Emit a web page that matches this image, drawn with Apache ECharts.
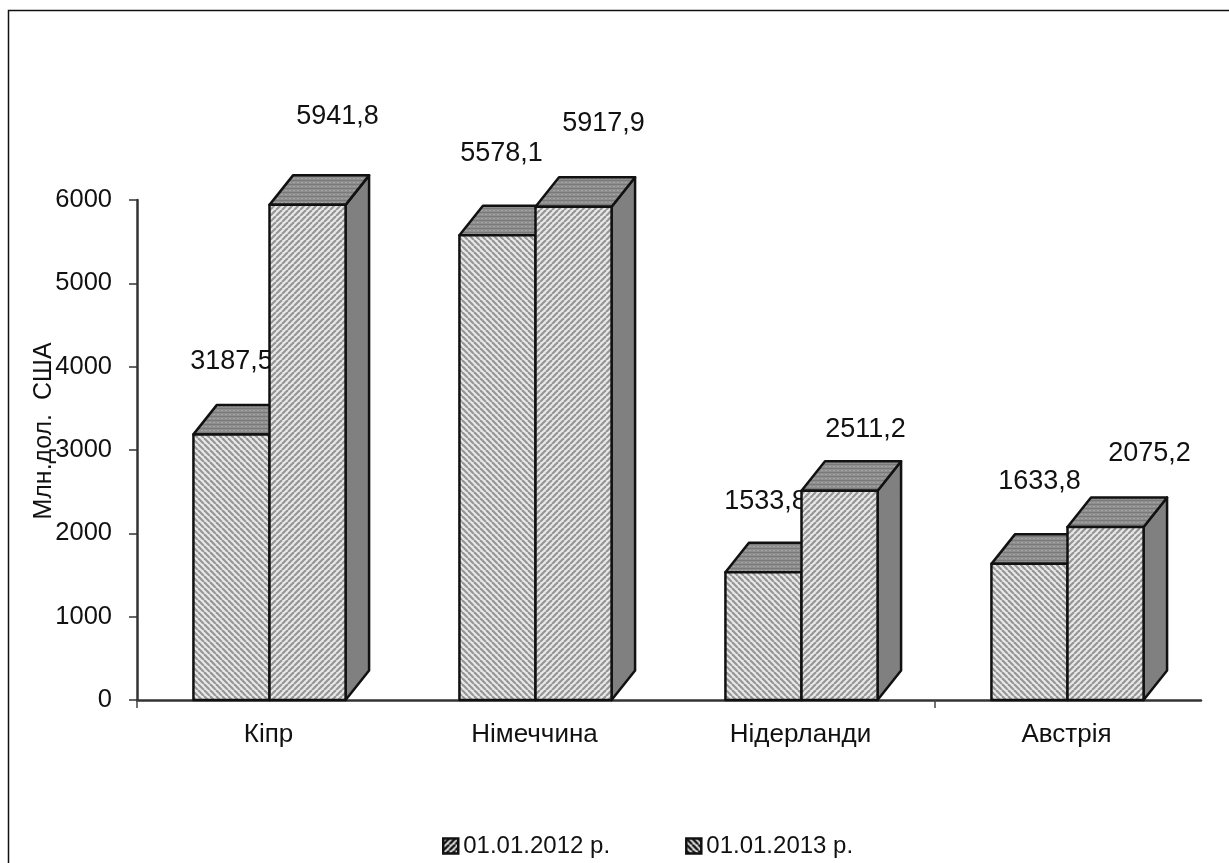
<!DOCTYPE html>
<html><head><meta charset="utf-8">
<style>html,body{margin:0;padding:0;background:#fff}#c{width:1229px;height:863px}</style>
<script src="https://cdn.jsdelivr.net/npm/echarts@6/dist/echarts.min.js"></script>
</head><body><div id="c"></div>
<script>
const categories = ['Кіпр','Німеччина','Нідерланди','Австрія'];
const seriesNames = ['01.01.2012 р.','01.01.2013 р.'];
const values2012 = [3187.5,5578.1,1533.8,1633.8];
const values2013 = [5941.8,5917.9,2511.2,2075.2];
const labels2012 = ['3187,5','5578,1','1533,8','1633,8'];
const labels2013 = ['5941,8','5917,9','2511,2','2075,2'];
const tickedCategories = [0,3];
// label shift from bar centre, and lift above its bar top
const labelLift2012 = [[0,73],[4,82],[2,71],[10,82]];
const labelLift2013 = [[30,88],[30,83],[26,61],[44,74]];
const FONT = '"Liberation Sans", Arial, sans-serif';

function hatch(dir, dark, light, p, lw){
  const c=document.createElement('canvas'); c.width=p; c.height=p;
  const g=c.getContext('2d'); g.fillStyle=light; g.fillRect(0,0,p,p);
  g.strokeStyle=dark; g.lineWidth=lw;
  for(let k=-p;k<=2*p;k+=p){
    g.beginPath();
    if(dir>0){g.moveTo(k,p);g.lineTo(k+p,0);} else {g.moveTo(k,0);g.lineTo(k+p,p);}
    g.stroke();
  }
  return {image:c,repeat:'repeat'};
}
const fillA = hatch(-1,'#969696','#e8e8e8',6,2.2);
const fillB = hatch(1,'#969696','#e8e8e8',6,2.2);
const legendA = hatch(1,'#111','#f2f2f2',6,2.6);
const legendB = hatch(-1,'#111','#f2f2f2',6,2.6);
const dots = (function(){
  const c=document.createElement('canvas'); c.width=4; c.height=4;
  const g=c.getContext('2d'); g.fillStyle='#8e8e8e'; g.fillRect(0,0,4,4);
  g.fillStyle='#7a7a7a'; g.fillRect(0,0,4,1); g.fillStyle='#a4a4a4'; g.fillRect(1,2,2,1);
  return {image:c,repeat:'repeat'};
})();
const sideFill = '#808080';

const BAR_RATIO = 0.286, DX = 23.5, DY = 29.5;
function bars(seriesIndex, fill, lifts, labels){
  return function(params, api){
    const i = api.value(0), v = api.value(1);
    const top = api.coord([i, v]), base = api.coord([i, 0]);
    const band = api.size([1,0])[0], w = band*BAR_RATIO;
    const x0 = seriesIndex===0 ? top[0]-w-0.5 : top[0]-0.5, x1 = x0+w, y0 = top[1], y1 = base[1];
    const line = {stroke:'#111', lineWidth:2.5, lineJoin:'round'};
    const lift = lifts[params.dataIndex];
    return {type:'group', children:[
      {type:'polygon', shape:{points:[[x1,y0],[x1+DX,y0-DY],[x1+DX,y1-DY],[x1,y1]]}, style:Object.assign({fill:sideFill},line)},
      {type:'polygon', shape:{points:[[x0,y0],[x0+DX,y0-DY],[x1+DX,y0-DY],[x1,y0]]}, style:Object.assign({fill:dots},line)},
      {type:'rect', shape:{x:x0,y:y0,width:w,height:y1-y0}, style:Object.assign({fill:fill},line)},
      {type:'text', x:x0+w/2+lift[0], y:y0-lift[1], style:{text:labels[params.dataIndex], fill:'#111', font:'27px '+FONT, align:'center', verticalAlign:'middle'}}
    ]};
  };
}
function series(idx,name,vals,fill,lifts,labels){
  return {type:'custom', name:name, renderItem:bars(idx,fill,lifts,labels), clip:false,
    encode:{x:0,y:1}, itemStyle:{color:fill},
    data: vals.map((v,i)=>[i,v])};
}
function tickMarks(params, api){
  const p = api.coord([api.value(0), 0]), band = api.size([1,0])[0];
  const x = p[0]-band/2;
  return {type:'line', shape:{x1:x,y1:p[1],x2:x,y2:p[1]+8}, style:{stroke:'#444',lineWidth:1.5}};
}
const chart = echarts.init(document.getElementById('c'),null,{renderer:'canvas'});
chart.setOption({
  animation:false, backgroundColor:'#fff',
  graphic:[{type:'polyline', silent:true, shape:{points:[[8.5,870],[8.5,10.5],[1240,10.5]]}, style:{stroke:'#111',fill:'none',lineWidth:1.5}}],
  grid:{left:137,right:28,top:200,bottom:163},
  legend:{left:437,top:829,itemWidth:15,itemHeight:15,itemGap:75,selectedMode:false,
    textStyle:{fontFamily:FONT,fontSize:24,color:'#111'},
    data:[{name:seriesNames[0],icon:'rect',itemStyle:{color:legendA,borderColor:'#111',borderWidth:2.5}},
          {name:seriesNames[1],icon:'rect',itemStyle:{color:legendB,borderColor:'#111',borderWidth:2.5}}]},
  xAxis:{type:'category',data:categories,boundaryGap:true,
    axisLine:{onZero:false,lineStyle:{color:'#333',width:2.5}},
    axisTick:{show:false},
    axisLabel:{fontFamily:FONT,fontSize:26,color:'#111',margin:22,padding:[0,3,0,0],interval:0}},
  yAxis:{type:'value',min:0,max:6000,interval:1000,name:'Млн.дол.  США',nameLocation:'middle',nameGap:80,nameMoveOverlap:false,
    nameTextStyle:{fontFamily:FONT,fontSize:25,color:'#111',padding:[0,0,0,38]},
    axisLine:{show:true,lineStyle:{color:'#333',width:2.5}},
    axisTick:{show:true,length:8,lineStyle:{color:'#333',width:1.5}},
    splitLine:{show:false},
    axisLabel:{fontFamily:FONT,fontSize:25.5,color:'#111',margin:25,formatter:function(v){return String(v);}}},
  series:[{type:'custom',name:'ticks',renderItem:tickMarks,clip:false,silent:true,encode:{x:0},
           data:tickedCategories.map(i=>[i])},
          series(0,seriesNames[0],values2012,fillA,labelLift2012,labels2012),
          series(1,seriesNames[1],values2013,fillB,labelLift2013,labels2013)]
});
</script></body></html>
